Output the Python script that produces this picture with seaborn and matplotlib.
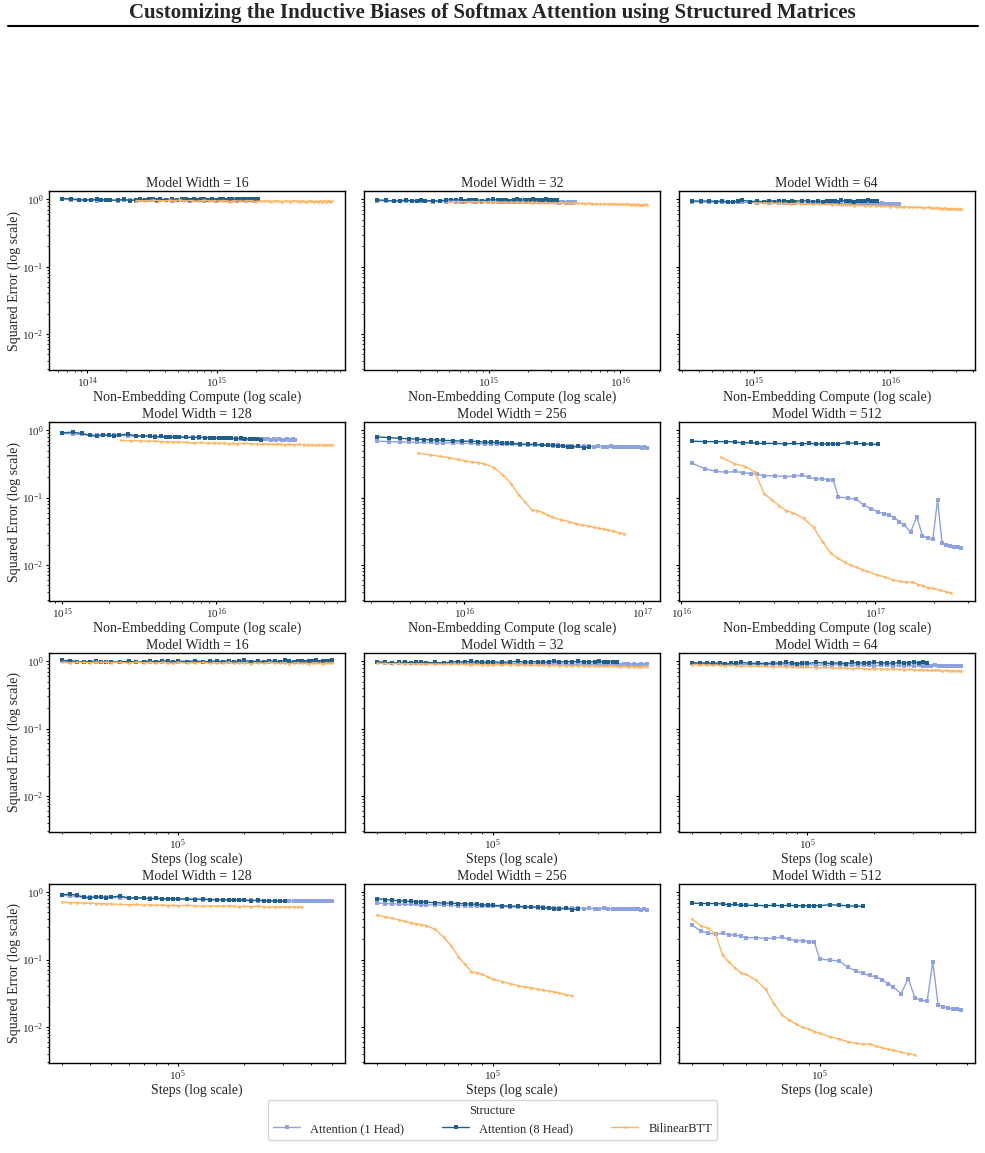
import numpy as np
import pandas as pd
import matplotlib
matplotlib.use("Agg")
import matplotlib.pyplot as plt
from matplotlib.lines import Line2D
import seaborn as sns

# training steps (thousands) at which the runs were logged
steps_k = [30, 32.5, 35, 37.5, 40, 42.5, 45, 47.5, 50,
           55, 60, 65, 70, 75, 80, 85, 90, 95, 100,
           110, 120, 130, 140, 150, 160, 170, 180, 190, 200,
           215, 230, 245, 260, 275, 290, 305, 320, 335, 350,
           365, 380, 395, 410, 425, 440, 455, 470, 485, 500]

widths = [16, 32, 64, 128, 256, 512]
structures = ["Attention (1 Head)", "Attention (8 Head)", "BilinearBTT"]

# non-embedding flops per step
att_flops = {16: 4.3e9, 32: 9.4e9, 64: 2.37e10, 128: 6.7e10, 256: 2.17e11, 512: 7.6e11}
btt_flops = {16: 1.6e10, 32: 3.3e10, 64: 6.8e10, 128: 1.6e11, 256: 3.67e11, 512: 1.07e12}
step_offset = 15000

# squared error, one list per run
att1_16 = [1.00, 0.99, 0.98, 0.97, 0.98, 0.96, 0.97, 0.98, 0.97, 0.96, 0.98, 0.97, 0.96, 0.97, 0.99, 0.97, 0.98,
           0.96, 0.97, 0.98, 0.96, 0.97, 0.98, 0.97, 0.96, 0.97, 0.98, 0.97, 0.96, 0.98, 0.97, 0.96, 0.97, 0.98,
           0.97, 0.96, 0.97, 0.98, 0.96, 0.97, 0.98, 0.97, 0.96, 0.97, 0.98, 0.97, 0.96, 0.97, 0.97]
att8_16 = [1.03, 1.02, 0.99, 0.98, 0.99, 1.00, 0.98, 0.99, 0.97, 0.98, 1.00, 0.96, 0.99, 1.01, 0.98, 1.02, 1.00,
           0.97, 1.01, 0.99, 1.02, 0.98, 1.00, 1.01, 0.99, 1.02, 0.98, 1.00, 1.03, 0.99, 1.01, 0.98, 1.02, 1.00,
           0.99, 1.03, 1.00, 0.98, 1.02, 1.01, 0.99, 1.02, 1.00, 1.03, 0.99, 1.01, 1.02, 1.00, 1.03]
btt_16 = [0.96, 0.95, 0.97, 0.96, 0.95, 0.97, 0.96, 0.98, 0.95, 0.96, 0.94, 0.97, 0.95, 0.96, 0.94, 0.96, 0.95,
          0.93, 0.96, 0.94, 0.95, 0.96, 0.93, 0.95, 0.94, 0.96, 0.93, 0.95, 0.94, 0.92, 0.95, 0.93, 0.96, 0.94,
          0.93, 0.95, 0.92, 0.94, 0.95, 0.93, 0.94, 0.92, 0.95, 0.93, 0.94, 0.92, 0.95, 0.93, 0.94]

att1_32 = [0.96, 0.95, 0.95, 0.94, 0.95, 0.94, 0.94, 0.95, 0.94, 0.93, 0.94, 0.93, 0.94, 0.93, 0.92, 0.93, 0.94,
           0.92, 0.93, 0.92, 0.93, 0.92, 0.91, 0.92, 0.93, 0.91, 0.92, 0.91, 0.92, 0.91, 0.90, 0.91, 0.92, 0.90,
           0.91, 0.90, 0.91, 0.90, 0.91, 0.90, 0.89, 0.90, 0.91, 0.89, 0.90, 0.89, 0.90, 0.89, 0.90]
att8_32 = [0.98, 0.97, 0.94, 0.96, 0.97, 0.95, 0.96, 0.97, 0.95, 0.96, 0.94, 0.98, 0.99, 0.97, 1.00, 0.96, 0.98,
           0.97, 0.99, 0.96, 0.98, 1.00, 0.97, 0.99, 0.98, 0.96, 0.99, 1.00, 0.97, 0.99, 0.98, 1.00, 0.97, 0.99,
           0.98, 1.00, 0.97, 0.98, 0.99, 0.97]
btt_32 = [0.93, 0.93, 0.92, 0.93, 0.92, 0.92, 0.91, 0.92, 0.91, 0.91, 0.90, 0.91, 0.90, 0.90, 0.89, 0.90, 0.89,
          0.89, 0.88, 0.89, 0.88, 0.88, 0.87, 0.88, 0.87, 0.87, 0.86, 0.87, 0.86, 0.86, 0.85, 0.86, 0.85, 0.85,
          0.86, 0.84, 0.85, 0.84, 0.85, 0.84, 0.83, 0.84, 0.83, 0.84, 0.83, 0.82, 0.83, 0.84, 0.83]

att1_64 = [0.93, 0.92, 0.91, 0.92, 0.90, 0.91, 0.90, 0.91, 0.90, 0.90, 0.89, 0.90, 0.89, 0.90, 0.89, 0.88, 0.89,
           0.88, 0.89, 0.88, 0.87, 0.88, 0.89, 0.87, 0.88, 0.87, 0.88, 0.87, 0.86, 0.87, 0.88, 0.86, 0.87, 0.86,
           0.87, 0.86, 0.87, 0.86, 0.85, 0.86, 0.87, 0.85, 0.86, 0.85, 0.86, 0.85, 0.86, 0.85, 0.86]
att8_64 = [0.95, 0.94, 0.95, 0.93, 0.95, 0.91, 0.93, 0.94, 0.97, 0.93, 0.94, 0.92, 0.95, 0.93, 0.96, 0.94, 0.92,
           0.95, 0.93, 0.96, 0.94, 0.93, 0.95, 0.92, 0.96, 0.94, 0.95, 0.93, 0.97, 0.94, 0.95, 0.93, 0.96, 0.94,
           0.95, 0.97, 0.94, 0.96, 0.95]
btt_64 = [0.89, 0.88, 0.88, 0.87, 0.87, 0.86, 0.87, 0.86, 0.85, 0.85, 0.84, 0.84, 0.83, 0.84, 0.82, 0.83, 0.82,
          0.81, 0.82, 0.80, 0.81, 0.80, 0.79, 0.80, 0.78, 0.79, 0.78, 0.77, 0.78, 0.77, 0.76, 0.77, 0.76, 0.75,
          0.76, 0.75, 0.74, 0.75, 0.74, 0.73, 0.74, 0.73, 0.72, 0.73, 0.72, 0.72, 0.71, 0.72, 0.71]

att1_128 = [0.90, 0.88, 0.87, 0.86, 0.85, 0.85, 0.84, 0.84, 0.84, 0.83, 0.82, 0.83, 0.82, 0.81, 0.81, 0.80, 0.80,
            0.80, 0.79, 0.79, 0.79, 0.78, 0.78, 0.78, 0.77, 0.77, 0.77, 0.76, 0.76, 0.76, 0.75, 0.75, 0.75, 0.74,
            0.74, 0.75, 0.74, 0.74, 0.73, 0.74, 0.73, 0.74, 0.73, 0.73, 0.74, 0.73, 0.73, 0.74, 0.73]
att8_128 = [0.92, 0.94, 0.90, 0.84, 0.82, 0.86, 0.84, 0.83, 0.85, 0.88, 0.82, 0.83, 0.82, 0.80, 0.81, 0.80, 0.79,
            0.80, 0.80, 0.79, 0.78, 0.79, 0.78, 0.77, 0.78, 0.77, 0.76, 0.77, 0.76, 0.75, 0.76, 0.75, 0.74, 0.75,
            0.74, 0.73]
btt_128 = [0.71, 0.70, 0.70, 0.69, 0.69, 0.68, 0.68, 0.67, 0.67, 0.66, 0.65, 0.66, 0.64, 0.65, 0.64, 0.65, 0.63,
           0.64, 0.63, 0.64, 0.63, 0.62, 0.63, 0.62, 0.62, 0.63, 0.62, 0.61, 0.62, 0.61, 0.62, 0.61, 0.60, 0.61,
           0.60, 0.61, 0.60, 0.61, 0.60, 0.61]

att1_256 = [0.69, 0.68, 0.67, 0.67, 0.66, 0.66, 0.66, 0.65, 0.65, 0.65, 0.64, 0.64, 0.63, 0.63, 0.63, 0.62, 0.62,
            0.62, 0.62, 0.61, 0.61, 0.60, 0.60, 0.60, 0.59, 0.60, 0.59, 0.59, 0.58, 0.58, 0.59, 0.58, 0.57, 0.58,
            0.57, 0.57, 0.58, 0.57, 0.56, 0.57, 0.56, 0.57, 0.56, 0.56, 0.57, 0.56, 0.55, 0.56, 0.55]
att8_256 = [0.80, 0.78, 0.76, 0.75, 0.74, 0.73, 0.72, 0.72, 0.71, 0.70, 0.69, 0.69, 0.68, 0.67, 0.67, 0.66, 0.65,
            0.65, 0.64, 0.63, 0.62, 0.62, 0.61, 0.60, 0.60, 0.59, 0.58, 0.57, 0.56, 0.58, 0.55, 0.56]
btt_256 = [0.46, 0.43, 0.41, 0.39, 0.37, 0.35, 0.34, 0.33, 0.32, 0.28, 0.215, 0.16, 0.11, 0.085, 0.066, 0.064,
           0.060, 0.055, 0.051, 0.047, 0.044, 0.041, 0.039, 0.038, 0.036, 0.035, 0.034, 0.033, 0.032, 0.030, 0.029]

att1_512 = [0.325, 0.268, 0.245, 0.238, 0.245, 0.235, 0.228, 0.225, 0.210, 0.212, 0.205, 0.208, 0.215, 0.200,
            0.190, 0.190, 0.185, 0.180, 0.102, 0.098, 0.095, 0.077, 0.068, 0.062, 0.058, 0.055, 0.050, 0.044,
            0.039, 0.031, 0.052, 0.027, 0.025, 0.024, 0.093, 0.021, 0.020, 0.019, 0.0185, 0.0182, 0.018]
att8_512 = [0.69, 0.68, 0.68, 0.68, 0.67, 0.65, 0.66, 0.64, 0.64, 0.64, 0.63, 0.64, 0.63, 0.64, 0.63, 0.63, 0.63,
            0.63, 0.63, 0.655, 0.64, 0.63, 0.62, 0.62]
btt_512 = [0.40, 0.32, 0.29, 0.24, 0.115, 0.092, 0.075, 0.064, 0.060, 0.049, 0.036, 0.022, 0.015, 0.0125, 0.011,
           0.0098, 0.0092, 0.0085, 0.0080, 0.0071, 0.0066, 0.0060, 0.0057, 0.0055, 0.0056, 0.0051, 0.0049, 0.0046,
           0.0045, 0.0042, 0.0040, 0.0038]

runs = {
    16: [att1_16, att8_16, btt_16],
    32: [att1_32, att8_32, btt_32],
    64: [att1_64, att8_64, btt_64],
    128: [att1_128, att8_128, btt_128],
    256: [att1_256, att8_256, btt_256],
    512: [att1_512, att8_512, btt_512],
}

rows = []
for w in widths:
    for name, vals in zip(structures, runs[w]):
        fps = btt_flops[w] if name == "BilinearBTT" else att_flops[w]
        for s, v in zip(steps_k, vals):
            st = s * 1000
            rows.append({"width": w, "Structure": name, "steps": st,
                         "compute": fps * (st - step_offset), "error": v})
df = pd.DataFrame(rows)

sns.set_style("ticks")
plt.rcParams["font.family"] = ["Liberation Serif", "DejaVu Serif"]
plt.rcParams["mathtext.fontset"] = "stix"
plt.rcParams["axes.edgecolor"] = "black"
plt.rcParams["axes.linewidth"] = 1.0

palette = {"Attention (1 Head)": "#8fa2e0", "Attention (8 Head)": "#1f5f8b", "BilinearBTT": "#fdb462"}
markers = {"Attention (1 Head)": "s", "Attention (8 Head)": "s", "BilinearBTT": "*"}

fig = plt.figure(figsize=(9.85, 11.53), dpi=100)
axes = fig.subplots(4, 3, sharey=True)
fig.subplots_adjust(left=0.0497, right=0.9898, top=0.8343, bottom=0.0781, wspace=0.062, hspace=0.29)

for i, w in enumerate(widths):
    sub = df[df["width"] == w]
    for half, xcol, xlabel in [(0, "compute", "Non-Embedding Compute (log scale)"),
                               (2, "steps", "Steps (log scale)")]:
        ax = axes[half + i // 3, i % 3]
        sns.lineplot(data=sub, x=xcol, y="error", hue="Structure", style="Structure",
                     hue_order=structures, palette=palette, markers=markers, dashes=False,
                     estimator=None, sort=True, ax=ax, legend=False,
                     linewidth=1.0, markersize=3.4, markeredgewidth=0)
        ax.set_xscale("log")
        ax.set_yscale("log")
        ax.set_title(f"Model Width = {w}", fontsize=10, pad=3)
        ax.set_xlabel(xlabel, fontsize=10, labelpad=0)
        if i % 3 == 0:
            ax.set_ylabel("Squared Error (log scale)", fontsize=10, labelpad=1)
        else:
            ax.set_ylabel("")
        ax.tick_params(which="major", length=2.5, width=0.8, labelsize=8, pad=1.5, color="black")
        ax.tick_params(which="minor", length=1.5, width=0.6, color="black")
        for sp in ax.spines.values():
            sp.set_visible(True)

axes[0, 0].set_ylim(2.9e-3, 1.33)

# page header
fig.text(0.5, 1 - 13 / 1153, "Customizing the Inductive Biases of Softmax Attention using Structured Matrices",
         ha="center", va="center", fontsize=15, fontweight="bold")
fig.add_artist(Line2D([8 / 985, 978 / 985], [1 - 26 / 1153, 1 - 26 / 1153], color="black", lw=1.5))

handles = [Line2D([], [], color=palette[s], marker=markers[s], markersize=3, markeredgewidth=0, lw=1.0)
           for s in structures]
fig.legend(handles, structures, title="Structure", ncol=3, loc="lower center",
           bbox_to_anchor=(0.5, 0.006), fontsize=9, title_fontsize=9, columnspacing=3.0,
           handlelength=2.2, frameon=True, edgecolor="#cccccc")

fig.savefig("out.png", dpi=100)
